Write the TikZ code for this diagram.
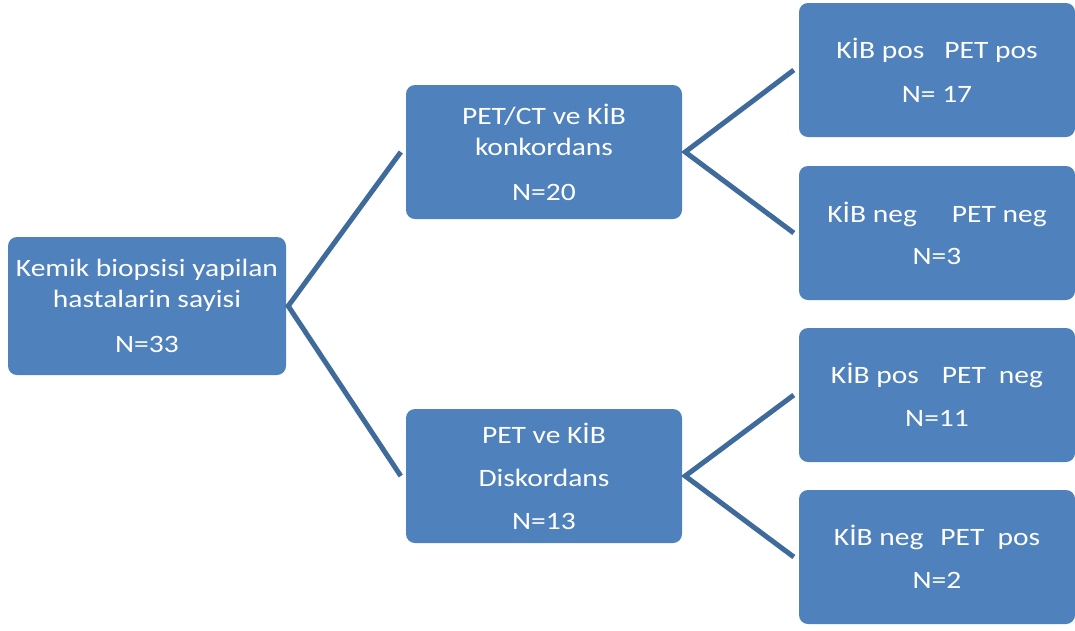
\documentclass[tikz,border=0pt]{standalone}
\usepackage{fontspec}
\setmainfont{Carlito}[FakeStretch=1.18]
\usetikzlibrary{positioning,calc}
\definecolor{boxblue}{HTML}{4F81BD}
\definecolor{linkblue}{HTML}{3F6B9C}
\tikzset{
  box/.style={fill=boxblue,rounded corners=9pt,text=white,align=center,inner sep=0pt,
    minimum width=276pt,minimum height=134pt,font=\fontsize{25}{31}\selectfont},
  link/.style={draw=linkblue,line width=5pt,line join=miter},
}
\begin{document}
\begin{tikzpicture}[x=1pt,y=-1pt]
\useasboundingbox (0,0) rectangle (1075,630);
% Root
\node[box,minimum width=278pt,minimum height=138pt] (root) at (147,306)
  {Kemik biopsisi yapilan\\hastalarin sayisi\\[14pt]N=33};
% Middle level
\node[box] (konk) at (544,152) {PET/CT ve KİB\\konkordans\\[14pt]N=20};
\node[box] (disk) at (544,476) {PET ve KİB\\[12pt]Diskordans\\[12pt]N=13};
% Right level
\node[box] (pp) at (937,70)  {KİB pos\hspace{20pt}PET pos\\[13pt]N= 17};
\node[box] (nn) at (937,233) {KİB neg\hspace{35pt}PET neg\\[11pt]N=3};
\node[box] (pn) at (937,395) {KİB pos\hspace{23pt}PET\hspace{13pt}neg\\[12pt]N=11};
\node[box] (np) at (937,557) {KİB neg\hspace{17pt}PET\hspace{13pt}pos\\[12pt]N=2};
% Forks
\coordinate (f0) at ([xshift=2pt]root.east);
\coordinate (f1) at ([xshift=3pt]konk.east);
\coordinate (f2) at ([xshift=3pt]disk.east);
\draw[link] ([xshift=-5pt]konk.west) -- (f0) -- ([xshift=-5pt]disk.west);
\draw[link] ([xshift=-5pt]pp.west) -- (f1) -- ([xshift=-5pt]nn.west);
\draw[link] ([xshift=-5pt]pn.west) -- (f2) -- ([xshift=-5pt]np.west);
\end{tikzpicture}
\end{document}
